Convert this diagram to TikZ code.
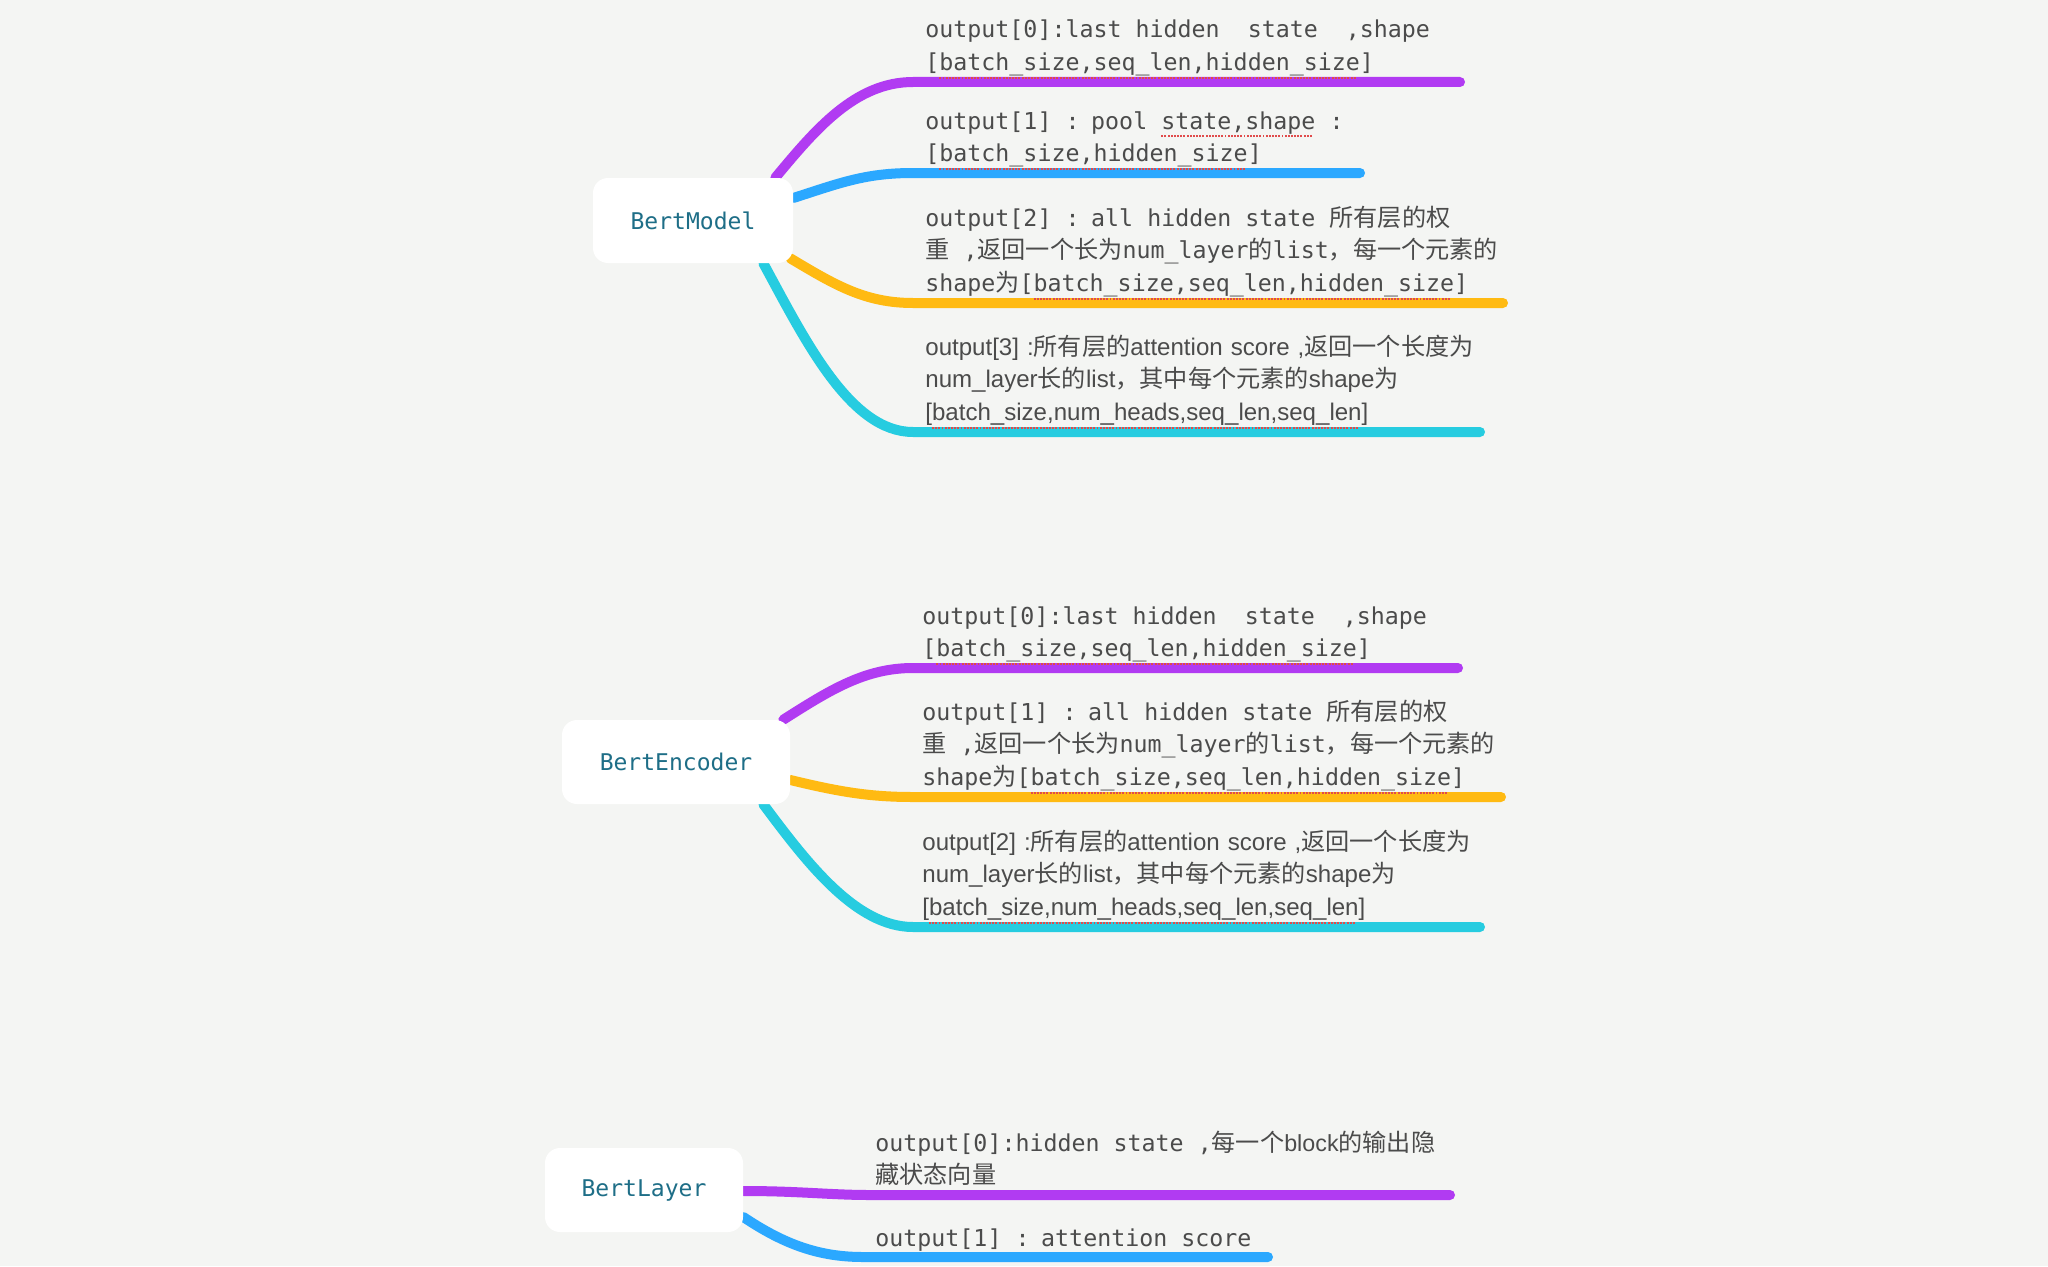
\documentclass[tikz,border=0pt]{standalone}
\usepackage{fontspec}
\setmainfont{Liberation Sans}
\setmonofont{DejaVu Sans Mono}
\newfontfamily\cjk{Noto Sans CJK SC}

\definecolor{bgcol}{HTML}{F4F5F3}
\definecolor{txtcol}{HTML}{4B4B4B}
\definecolor{boxtxt}{HTML}{1E6E87}
\definecolor{cpurple}{HTML}{B13BF2}
\definecolor{cblue}{HTML}{2BA8FF}
\definecolor{corange}{HTML}{FFBA12}
\definecolor{ccyan}{HTML}{26CCE0}
\definecolor{spellred}{HTML}{E04B4B}

\newcommand{\zh}[1]{{\cjk\fontsize{13.75}{18.76}\selectfont #1}}
% full-width word space for the mono text (align=left narrows it)
\newcommand{\msp}{\spaceskip=0.602em\relax}
\newsavebox{\sqbox}
\newcommand{\squig}[1]{\sbox{\sqbox}{#1}\rlap{\hbox to \wd\sqbox{\color{spellred}\leaders\hbox{\rule[-4.6pt]{1.1pt}{1.1pt}\kern0.7pt}\hfill}}\usebox{\sqbox}}

\pgfdeclarelayer{back}
\pgfdeclarelayer{bg}
\pgfsetlayers{back,bg,main}

\begin{document}
\begin{tikzpicture}[x=0.2mm, y=-0.2mm,
    box/.style = {fill=white, rounded corners=3mm, minimum height=17mm, inner sep=0pt,
      text=boxtxt, font=\fontsize{13.1}{16}\selectfont\ttfamily},
    txt/.style = {anchor=base west, inner sep=0pt, text width=130mm, align=left,
      text=txtcol, font=\fontsize{13.25}{18.76}\selectfont\ttfamily},
    stxt/.style = {txt, font=\fontsize{13.7}{18.76}\selectfont\rmfamily},
    branch/.style = {line width=2mm, line cap=round}]
  \begin{pgfonlayer}{back}
    \fill[bgcol] (0,0) rectangle (2048,1266);
  \end{pgfonlayer}
  \useasboundingbox (0,0) rectangle (2048,1266);

  % BertModel
  \node[box, minimum width=40mm] (bm) at (693,220.5) {BertModel};
  \node[txt] (m0) at (925,38) {\msp output[0]:last hidden\ \ state\ \ ,shape\\
    {[}\squig{batch\_size,seq\_len,hidden\_size}]};
  \node[txt] (m1) at (925,129) {\msp output[1] : pool \squig{state,shape} :\\
    {[}\squig{batch\_size,hidden\_size}]};
  \node[txt] (m2) at (925,226) {\msp output[2] : all hidden state \zh{所有层的权}\\
    \zh{重} ,\zh{返回一个长为}num\_layer\zh{的}list\zh{，每一个元素的}\\
    shape\zh{为}[\squig{batch\_size,seq\_len,hidden\_size}]};
  \node[stxt] (m3) at (925,355) {output[3] :\zh{所有层的}attention score ,\zh{返回一个长度为}\\
    num\_layer\zh{长的}list\zh{，其中每个元素的}shape\zh{为}\\
    {[}\squig{batch\_size,num\_heads,seq\_len,seq\_len}]};
  \coordinate (m0l) at (913,82);  \coordinate (m0r) at (1460,82);
  \coordinate (m1l) at (913,173); \coordinate (m1r) at (1360,173);
  \coordinate (m2l) at (913,303); \coordinate (m2r) at (1503,303);
  \coordinate (m3l) at (913,432); \coordinate (m3r) at (1480,432);

  % BertEncoder
  \node[box, minimum width=45.6mm, minimum height=16.8mm] (be) at (676,762) {BertEncoder};
  \node[txt] (e0) at (922,624) {\msp output[0]:last hidden\ \ state\ \ ,shape\\
    {[}\squig{batch\_size,seq\_len,hidden\_size}]};
  \node[txt] (e1) at (922,720) {\msp output[1] : all hidden state \zh{所有层的权}\\
    \zh{重} ,\zh{返回一个长为}num\_layer\zh{的}list\zh{，每一个元素的}\\
    shape\zh{为}[\squig{batch\_size,seq\_len,hidden\_size}]};
  \node[stxt] (e2) at (922,850) {output[2] :\zh{所有层的}attention score ,\zh{返回一个长度为}\\
    num\_layer\zh{长的}list\zh{，其中每个元素的}shape\zh{为}\\
    {[}\squig{batch\_size,num\_heads,seq\_len,seq\_len}]};
  \coordinate (e0l) at (913,668); \coordinate (e0r) at (1458,668);
  \coordinate (e1l) at (913,797); \coordinate (e1r) at (1501,797);
  \coordinate (e2l) at (913,927); \coordinate (e2r) at (1480,927);

  % BertLayer
  \node[box, minimum width=39.6mm, minimum height=16.8mm] (bl) at (644,1190) {BertLayer};
  \node[txt] (l0) at (875,1151) {\msp output[0]:hidden state ,\zh{每一个}{\rmfamily block}\zh{的输出隐}\\
    \zh{藏状态向量}};
  \node[txt] (l1) at (875,1246) {\msp output[1] : attention score};
  \coordinate (l0l) at (870,1195); \coordinate (l0r) at (1450,1195);
  \coordinate (l1l) at (863,1257); \coordinate (l1r) at (1268,1257);

  \begin{pgfonlayer}{bg}
    \draw[branch, cpurple] ([shift={(-18,0)}]bm.north east) .. controls (815,130) and (855,82) .. (m0l) -- (m0r);
    \draw[branch, cblue] ([shift={(0,-22.5)}]bm.east) .. controls (840,183) and (865,173) .. (m1l) -- (m1r);
    \draw[branch, corange] ([shift={(-3,-5)}]bm.south east) .. controls (835,285) and (865,303) .. (m2l) -- (m2r);
    \draw[branch, ccyan] ([shift={(-30,0)}]bm.south east) .. controls (805,340) and (850,432) .. (m3l) -- (m3r);

    \draw[branch, cpurple] ([shift={(-7,0)}]be.north east) .. controls (830,690) and (865,668) .. (e0l) -- (e0r);
    \draw[branch, corange] ([shift={(0,18)}]be.east) .. controls (840,792) and (870,797) .. (e1l) -- (e1r);
    \draw[branch, ccyan] ([shift={(-27,0)}]be.south east) .. controls (805,860) and (855,927) .. (e2l) -- (e2r);

    \draw[branch, cpurple] ([shift={(0,1)}]bl.east) .. controls (800,1191) and (830,1195) .. (l0l) -- (l0r);
    \draw[branch, cblue] ([shift={(0,27)}]bl.east) .. controls (785,1245) and (820,1257) .. (l1l) -- (l1r);
  \end{pgfonlayer}
\end{tikzpicture}
\end{document}
